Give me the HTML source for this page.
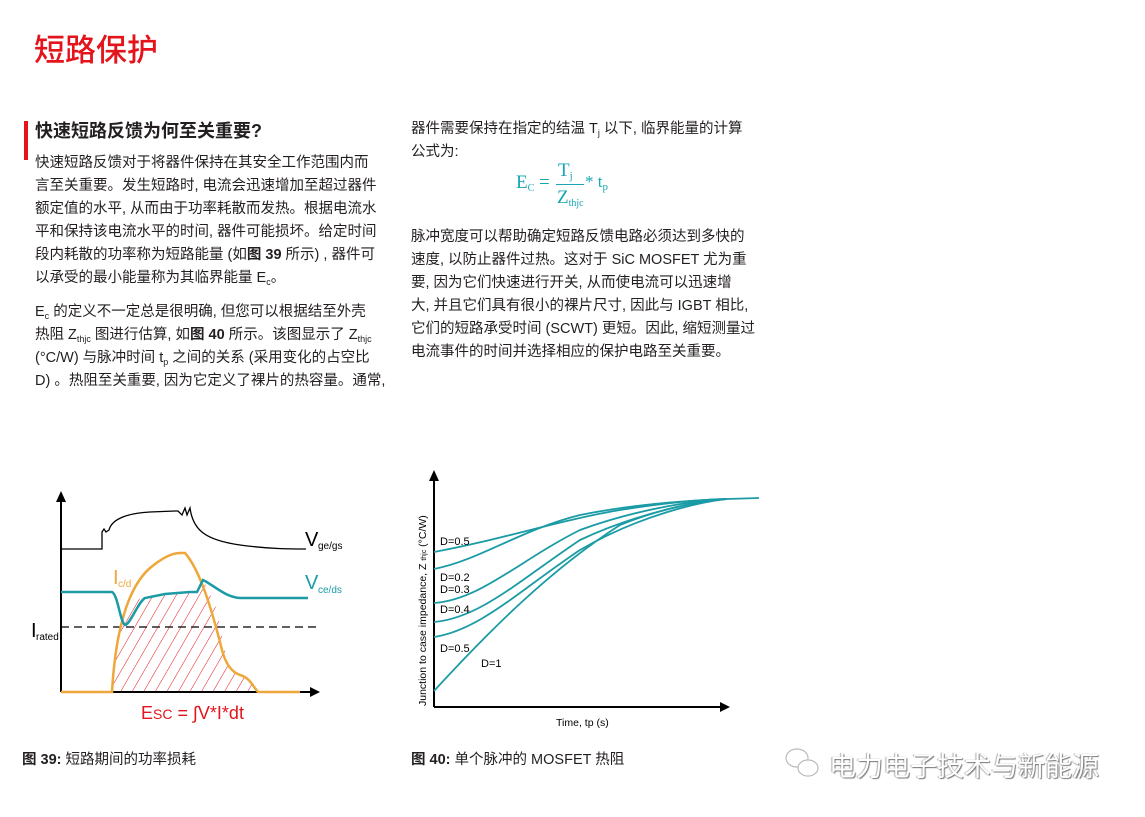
<!DOCTYPE html>
<html><head><meta charset="utf-8"><style>
body{margin:0;width:1145px;height:817px;background:#fff;position:relative;overflow:hidden;font-family:"Liberation Sans","Noto Sans CJK SC",sans-serif;color:#231f20}
.l{position:absolute;font-size:14.5px;line-height:20px;white-space:nowrap}
sub{font-size:9px;vertical-align:-3px;line-height:0}
b{font-weight:bold}
</style></head><body>
<div style="position:absolute;left:34px;top:31px;font-size:31px;color:#e3141b;line-height:40px;font-weight:500">短路保护</div>
<div style="position:absolute;left:24px;top:121px;width:4px;height:39px;background:#e3141b"></div>
<div style="position:absolute;left:35px;top:118px;font-size:18px;font-weight:bold;line-height:26px">快速短路反馈为何至关重要?</div>
<div class="l" style="left:35px;top:153px">快速短路反馈对于将器件保持在其安全工作范围内而</div>
<div class="l" style="left:35px;top:176px">言至关重要。发生短路时, 电流会迅速增加至超过器件</div>
<div class="l" style="left:35px;top:199px">额定值的水平, 从而由于功率耗散而发热。根据电流水</div>
<div class="l" style="left:35px;top:222px">平和保持该电流水平的时间, 器件可能损坏。给定时间</div>
<div class="l" style="left:35px;top:245px">段内耗散的功率称为短路能量 (如<b>图 39</b> 所示) , 器件可</div>
<div class="l" style="left:35px;top:268px">以承受的最小能量称为其临界能量 E<sub>c</sub>。</div>
<div class="l" style="left:35px;top:302px">E<sub>c</sub> 的定义不一定总是很明确, 但您可以根据结至外壳</div>
<div class="l" style="left:35px;top:325px">热阻 Z<sub>thjc</sub> 图进行估算, 如<b>图 40</b> 所示。该图显示了 Z<sub>thjc</sub></div>
<div class="l" style="left:35px;top:348px">(°C/W) 与脉冲时间 t<sub>p</sub> 之间的关系 (采用变化的占空比</div>
<div class="l" style="left:35px;top:371px">D) 。热阻至关重要, 因为它定义了裸片的热容量。通常,</div>

<div class="l" style="left:411px;top:119px">器件需要保持在指定的结温 T<sub>j</sub> 以下, 临界能量的计算</div>
<div class="l" style="left:411px;top:142px">公式为:</div>
<div style="position:absolute;left:516px;top:171px;font-family:'Liberation Serif',serif;color:#1aa5b3;font-size:19px;line-height:24px">E<sub style="font-size:10px">C</sub> =</div>
<div style="position:absolute;left:558px;top:160px;font-family:'Liberation Serif',serif;color:#1aa5b3;font-size:19px;line-height:22px">T<sub style="font-size:11px">j</sub></div>
<div style="position:absolute;left:556px;top:184px;width:28px;height:1px;background:#1aa5b3"></div>
<div style="position:absolute;left:557px;top:187px;font-family:'Liberation Serif',serif;color:#1aa5b3;font-size:19px;line-height:22px">Z<sub style="font-size:10px">thjc</sub></div>
<div style="position:absolute;left:585px;top:171px;font-family:'Liberation Serif',serif;color:#1aa5b3;font-size:17px;line-height:22px">* t<sub style="font-size:11px">p</sub></div>

<div class="l" style="left:411px;top:227px">脉冲宽度可以帮助确定短路反馈电路必须达到多快的</div>
<div class="l" style="left:411px;top:250px">速度, 以防止器件过热。这对于 SiC MOSFET 尤为重</div>
<div class="l" style="left:411px;top:273px">要, 因为它们快速进行开关, 从而使电流可以迅速增</div>
<div class="l" style="left:411px;top:296px">大, 并且它们具有很小的裸片尺寸, 因此与 IGBT 相比,</div>
<div class="l" style="left:411px;top:319px">它们的短路承受时间 (SCWT) 更短。因此, 缩短测量过</div>
<div class="l" style="left:411px;top:342px">电流事件的时间并选择相应的保护电路至关重要。</div>

<svg style="position:absolute;left:0;top:0" width="1145" height="817">
<defs>
<pattern id="h" width="10" height="10" patternUnits="userSpaceOnUse" patternTransform="rotate(30)"><line x1="0" y1="0" x2="0" y2="10" stroke="#e3141b" stroke-width="1"/></pattern>
</defs>
<path d="M112,692 C115,640 120,610 130,600 L145,598 L165,594 L190,592 L203,580 L215,604 C220,625 225,650 228,665 L240,675 L250,680 L258,692 Z" fill="url(#h)"/>
<line x1="61" y1="692" x2="61" y2="500" stroke="#000" stroke-width="2"/>
<polygon points="56,502 66,502 61,491" fill="#000"/>
<line x1="61" y1="692" x2="312" y2="692" stroke="#000" stroke-width="2"/>
<polygon points="310,687 310,697 320,692" fill="#000"/>
<path d="M61,549 L102,549 L102,532 L104,529 L106,532 L109,530 C112,518 130,513 150,512 L175,511 L178,511 L182,515 L185,508 L187,515 L190,508 C193,530 205,540 240,545 C270,549 290,549 306,549" fill="none" stroke="#000" stroke-width="1.3"/>
<line x1="61" y1="627" x2="318" y2="627" stroke="#000" stroke-width="1.3" stroke-dasharray="8,5"/>
<path d="M61,692 L112,692 C115,640 125,590 150,568 C162,558 172,553 180,553 L185,553 C200,570 212,610 222,650 C226,665 232,672 240,675 C250,678 252,685 258,692 L300,692" fill="none" stroke="#eda73a" stroke-width="2.5"/>
<path d="M61,592 L112,592 C118,595 120,622 125,625 C130,625 138,602 145,598 L165,594 L190,592 L197,592 L203,580 C215,586 225,597 240,598 L308,598" fill="none" stroke="#1a9ba5" stroke-width="2.5"/>
<text x="305" y="546" font-size="20" font-family="Liberation Sans">V</text><text x="318" y="549" font-size="10" font-family="Liberation Sans">ge/gs</text>
<text x="113" y="584" font-size="20" fill="#eda73a" font-family="Liberation Sans">I</text><text x="118" y="587" font-size="10" fill="#eda73a" font-family="Liberation Sans">c/d</text>
<text x="305" y="589" font-size="20" fill="#1a9ba5" font-family="Liberation Sans">V</text><text x="318" y="593" font-size="10" fill="#1a9ba5" font-family="Liberation Sans">ce/ds</text>
<text x="31" y="637" font-size="20" font-family="Liberation Sans">I</text><text x="36" y="640" font-size="10" font-family="Liberation Sans">rated</text>
<text x="141" y="719" font-size="18" fill="#e3141b" font-family="Liberation Sans">E<tspan font-size="14">SC</tspan>  = ∫V*I*dt</text>
<line x1="434" y1="707" x2="434" y2="480" stroke="#000" stroke-width="2"/>
<polygon points="429,481 439,481 434,470" fill="#000"/>
<line x1="434" y1="707" x2="722" y2="707" stroke="#000" stroke-width="2"/>
<polygon points="720,702 720,712 730,707" fill="#000"/>
<g fill="none" stroke="#1a9ba5" stroke-width="1.8">
<path d="M434,552 C500,540 560,520 620,510 C670,502 710,499 727,499 L759,498"/>
<path d="M434,569 C480,560 520,530 580,515 C640,503 700,500 727,499"/>
<path d="M434,603 C480,600 520,560 580,530 C640,508 700,500 727,499"/>
<path d="M434,622 C480,618 520,580 580,540 C640,512 700,501 727,499"/>
<path d="M434,637 C480,630 520,590 580,550 C640,515 700,502 727,499"/>
<path d="M434,691 C490,630 550,570 620,525 C670,505 710,500 727,499"/>
</g>
<g font-family="Liberation Sans" font-size="11" fill="#000">
<text x="440" y="545">D=0.5</text><text x="440" y="581">D=0.2</text><text x="440" y="593">D=0.3</text>
<text x="440" y="613">D=0.4</text><text x="440" y="652">D=0.5</text><text x="481" y="667">D=1</text>
<text x="556" y="726" font-size="10.5">Time, tp (s)</text>
<text transform="translate(426,706) rotate(-90)" font-size="10.5">Junction to case impedance, Z <tspan font-size="7">thjc</tspan> (°C/W)</text>
</g>
<g fill="none" stroke="#bbb" stroke-width="1.2">
<ellipse cx="797" cy="758" rx="11" ry="9"/><ellipse cx="808" cy="768" rx="10" ry="8" fill="#fff"/>
</g>
</svg>
<div style="position:absolute;left:22px;top:750px;font-size:14.5px;line-height:20px"><b>图 39:</b> 短路期间的功率损耗</div>
<div style="position:absolute;left:411px;top:750px;font-size:14.5px;line-height:20px"><b>图 40:</b> 单个脉冲的 MOSFET 热阻</div>
<div style="position:absolute;left:829px;top:750px;font-size:27px;line-height:34px;color:#fff;text-shadow:1px 1px 1px #777,-1px 0 1px #aaa">电力电子技术与新能源</div>
</body></html>
